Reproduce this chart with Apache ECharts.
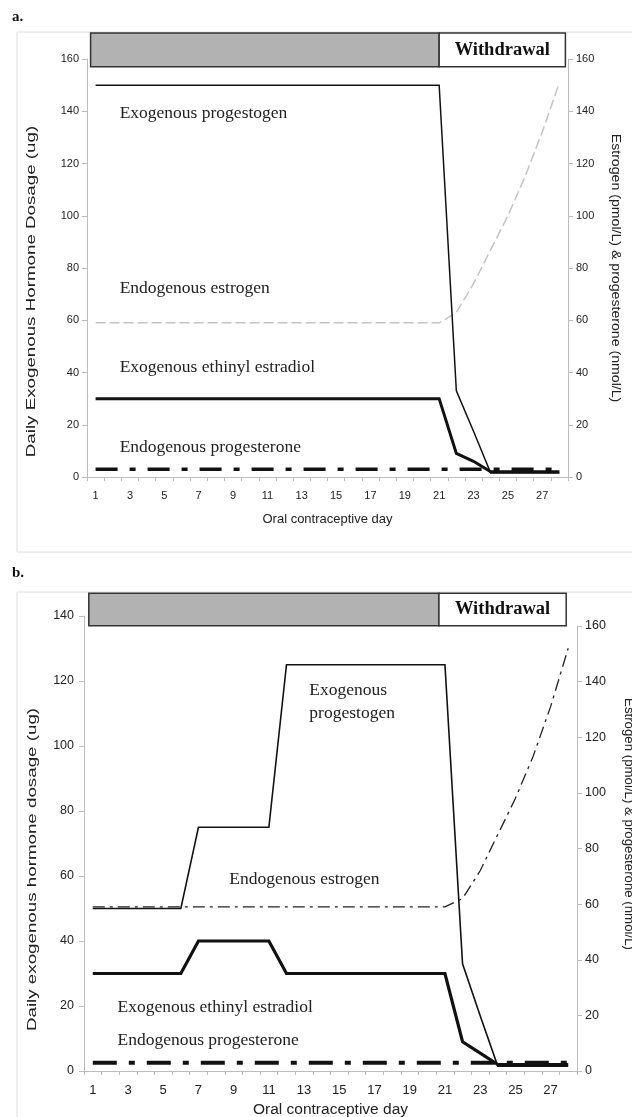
<!DOCTYPE html>
<html>
<head>
<meta charset="utf-8">
<script src="https://cdn.jsdelivr.net/npm/echarts@6/dist/echarts.min.js"></script>
<style>
html,body{margin:0;padding:0;background:#fff;}
#c{width:632px;height:1117px;}
</style>
</head>
<body>
<div id="c"></div>
<script>
// ---------- data ----------
const days = ['1','2','3','4','5','6','7','8','9','10','11','12','13','14','15','16','17','18','19','20','21','22','23','24','25','26','27','28'];

// Panel a
const aProgestogen  = [150,150,150,150,150,150,150,150,150,150,150,150,150,150,150,150,150,150,150,150,150,33,17.5,1.5,1.5,1.5,1.5,1.5];
const aEthinyl      = [30,30,30,30,30,30,30,30,30,30,30,30,30,30,30,30,30,30,30,30,30,9,6,2,2,2,2,2];
const aEstrogen     = [59,59,59,59,59,59,59,59,59,59,59,59,59,59,59,59,59,59,59,59,59,63,74,87,100,115,132,151];
const aProgesterone = [3,3,3,3,3,3,3,3,3,3,3,3,3,3,3,3,3,3,3,3,3,3,3,3,3,3,3,3];

// Panel b
const bProgestogen  = [50,50,50,50,50,50,75,75,75,75,75,125,125,125,125,125,125,125,125,125,125,33,17,1.5,1.5,1.5,1.5,1.5];
const bEthinyl      = [30,30,30,30,30,30,40,40,40,40,40,30,30,30,30,30,30,30,30,30,30,9,5.5,2,2,2,2,2];
const bEstrogen     = [59,59,59,59,59,59,59,59,59,59,59,59,59,59,59,59,59,59,59,59,59,62,72,85,98,113,131,152];
const bProgesterone = [3,3,3,3,3,3,3,3,3,3,3,3,3,3,3,3,3,3,3,3,3,3,3,3,3,3,3,3];

// axis ticks: min, max, interval
const aLeftTicks  = [0,160,20];
const aRightTicks = [0,160,20];
const bLeftTicks  = [0,140,20];
const bRightTicks = [0,160,20];

// axis titles
const xTitle = 'Oral contraceptive day';
const aLeftTitle  = 'Daily Exogenous Hormone Dosage (ug)';
const bLeftTitle  = 'Daily exogenous hormone dosage (ug)';
const rightTitle  = 'Estrogen (pmol/L) & progesterone (nmol/L)';

// phases (pill days / withdrawal)
const phaseStartDay = 1, withdrawalDay = 21, phaseEndDay = 28;
const withdrawalLabel = 'Withdrawal';

// ---------- chart ----------
const SANS = 'Liberation Sans, Arial, sans-serif';
const SERIF = 'Liberation Serif, Times New Roman, serif';
const chart = echarts.init(document.getElementById('c'), null, {renderer:'canvas', width:632, height:1117});

const axisGray = '#bdbdbd';
function xAx(grid, show, name, gap, fs, lfs){
  return {
    type:'category', gridIndex:grid, data:days, boundaryGap:true, show:show,
    axisLine:{show:true, lineStyle:{color:axisGray, width:1}},
    axisTick:{show:true, interval:0, length:4, lineStyle:{color:axisGray}},
    axisLabel:{interval:1, color:'#222', fontFamily:SANS, fontSize:lfs, margin:13},
    splitLine:{show:false},
    name:name, nameLocation:'middle', nameGap:gap,
    nameTextStyle:{color:'#222', fontFamily:SANS, fontSize:fs}
  };
}
function yAx(grid, pos, t, lfs, margin){
  return {
    type:'value', gridIndex:grid, position:pos, min:t[0], max:t[1], interval:t[2],
    axisLine:{show:true, lineStyle:{color:axisGray, width:1}},
    axisTick:{show:true, length:5, lineStyle:{color:axisGray}},
    axisLabel:{color:'#222', fontFamily:SANS, fontSize:lfs, margin:margin},
    splitLine:{show:false}
  };
}
function line(name, xi, yi, data, color, width, type, z){
  return {name:name, type:'line', xAxisIndex:xi, yAxisIndex:yi, data:data,
    symbol:'none', smooth:false, z:z||2,
    lineStyle:{color:color, width:width, type:type||'solid', cap:'butt', join:'miter'}};
}

chart.setOption({
  animation:false,
  backgroundColor:'#fff',
  grid:[
    {left:87, right:64, top:59, bottom:640, containLabel:false, outerBoundsMode:'none'},
    {left:84, right:55, top:616, bottom:46, containLabel:false, outerBoundsMode:'none'},
    {left:84, right:55, top:626, bottom:46, containLabel:false, outerBoundsMode:'none'}
  ],
  xAxis:[
    xAx(0, true, xTitle, 36, 13, 11),
    xAx(1, true, xTitle, 31, 15.5, 13),
    xAx(2, false, '', 0, 12, 12)
  ],
  yAxis:[
    yAx(0, 'left',  aLeftTicks, 11, 8),
    yAx(0, 'right', aRightTicks, 11, 8),
    yAx(1, 'left',  bLeftTicks, 12.5, 10),
    yAx(2, 'right', bRightTicks, 12.5, 8)
  ],
  series:[
    line('Endogenous estrogen', 0, 1, aEstrogen, '#c4c4c4', 1.5, [10,4], 1),
    line('Endogenous progesterone', 0, 1, aProgesterone, '#111', 3.5, [22,12,6,12], 2),
    line('Exogenous ethinyl estradiol', 0, 0, aEthinyl, '#111', 3, 'solid', 3),
    line('Exogenous progestogen', 0, 0, aProgestogen, '#111', 1.5, 'solid', 3),

    line('Endogenous estrogen', 2, 3, bEstrogen, '#222', 1.3, [12,5,3,5], 1),
    line('Endogenous progesterone', 2, 3, bProgesterone, '#111', 4, [24,12,6,12], 2),
    line('Exogenous ethinyl estradiol', 1, 2, bEthinyl, '#111', 3.2, 'solid', 3),
    line('Exogenous progestogen', 1, 2, bProgestogen, '#111', 1.6, 'solid', 3)
  ]
});

// ---------- annotations (positioned through the axes) ----------
// category axis: interpolate between neighbouring day centres for fractional days
function px(xi, day){
  const i = Math.floor(day) - 1, f = day - Math.floor(day);
  const p0 = chart.convertToPixel({xAxisIndex:xi}, i);
  const p1 = chart.convertToPixel({xAxisIndex:xi}, i + 1);
  return p0 + f * (p1 - p0);
}
function py(yi, v){ return chart.convertToPixel({yAxisIndex:yi}, v); }

function phaseBox(xi, yi, topV, botV, dl, dm, dr){
  const x0 = px(xi, phaseStartDay) + dl, xm = px(xi, withdrawalDay) + dm, x1 = px(xi, phaseEndDay) + dr;
  const y0 = py(yi, topV), y1 = py(yi, botV);
  return [
    {type:'rect', shape:{x:x0, y:y0, width:xm-x0, height:y1-y0}, style:{fill:'#b2b2b2', stroke:'#333', lineWidth:1.5}, z:10},
    {type:'rect', shape:{x:xm, y:y0, width:x1-xm, height:y1-y0}, style:{fill:'#fff', stroke:'#333', lineWidth:1.5}, z:10},
    {type:'text', style:{text:withdrawalLabel, x:(xm+x1)/2, y:(y0+y1)/2, align:'center', verticalAlign:'middle', textAlign:'center', textVerticalAlign:'middle', font:'bold 18.5px '+SERIF, fill:'#111'}, z:11}
  ];
}
function lbl(xi, yi, day, v, text){
  return {type:'text', style:{text:text, x:px(xi, day), y:py(yi, v), align:'left', verticalAlign:'middle', textAlign:'left', textVerticalAlign:'middle', font:'17.5px '+SERIF, fill:'#222'}, z:12};
}
function vTitle(text, x, yi, vMid, rot, stretch){
  return {type:'text', x:x, y:py(yi, vMid), rotation:rot, scaleX:stretch, scaleY:1,
    style:{text:text, x:0, y:0, align:'center', verticalAlign:'middle', textAlign:'center', textVerticalAlign:'middle', font:'12.5px '+SANS, fill:'#222'}, z:5};
}

const g = [];
g.push({type:'rect', shape:{x:17, y:32, width:640, height:520}, style:{fill:null, stroke:'#dcdcdc', lineWidth:1}, z:0, silent:true});
g.push({type:'rect', shape:{x:17, y:592, width:640, height:560}, style:{fill:null, stroke:'#dcdcdc', lineWidth:1}, z:0, silent:true});
g.push({type:'text', style:{text:'a.', x:12, y:17, verticalAlign:'middle', textVerticalAlign:'middle', font:'bold 15px '+SERIF, fill:'#111'}});
g.push({type:'text', style:{text:'b.', x:12, y:573, verticalAlign:'middle', textVerticalAlign:'middle', font:'bold 15px '+SERIF, fill:'#111'}});

g.push(...phaseBox(0, 0, 170, 157, -5, 0, 6));
g.push(...phaseBox(1, 2, 147, 137, -4, -6, -2));

g.push(vTitle(aLeftTitle, 32, 0, 71, Math.PI/2, 1.5));
g.push(vTitle(rightTitle, 615, 0, 80, -Math.PI/2, 1.13));
g.push(vTitle(bLeftTitle, 33, 2, 62, Math.PI/2, 1.5));
g.push(vTitle(rightTitle, 628, 2, 76, -Math.PI/2, 1.06));

g.push(lbl(0, 0, 2.4, 139, 'Exogenous progestogen'));
g.push(lbl(0, 0, 2.4, 72, 'Endogenous estrogen'));
g.push(lbl(0, 0, 2.4, 42, 'Exogenous ethinyl estradiol'));
g.push(lbl(0, 0, 2.4, 11.5, 'Endogenous progesterone'));

g.push(lbl(1, 2, 13.3, 117, 'Exogenous'));
g.push(lbl(1, 2, 13.3, 110, 'progestogen'));
g.push(lbl(1, 2, 8.75, 59, 'Endogenous estrogen'));
g.push(lbl(1, 2, 2.4, 19.7, 'Exogenous ethinyl estradiol'));
g.push(lbl(1, 2, 2.4, 9.5, 'Endogenous progesterone'));

chart.setOption({graphic: g});
</script>
</body>
</html>
